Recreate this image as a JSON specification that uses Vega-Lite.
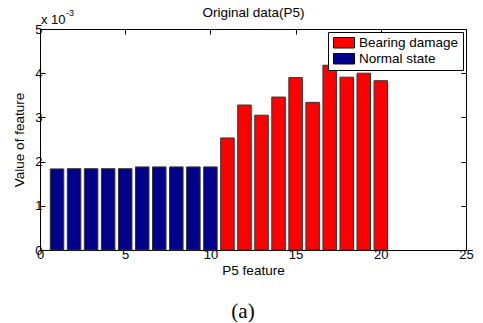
{
  "$schema": "https://vega.github.io/schema/vega-lite/v6.json",
  "width": 426,
  "height": 221,
  "autosize": "none",
  "padding": {"left": 40, "top": 29, "right": 17, "bottom": 73},
  "background": "white",
  "title": {
    "text": "(a)",
    "orient": "bottom",
    "font": "Liberation Serif",
    "fontSize": 21,
    "fontWeight": "normal",
    "color": "black",
    "offset": 24,
    "dx": -10
  },
  "layer": [
    {
      "data": {
        "values": [
          {"index": 1, "value": 0.001835, "state": "Normal state"},
          {"index": 2, "value": 0.001840, "state": "Normal state"},
          {"index": 3, "value": 0.001840, "state": "Normal state"},
          {"index": 4, "value": 0.001840, "state": "Normal state"},
          {"index": 5, "value": 0.001840, "state": "Normal state"},
          {"index": 6, "value": 0.001880, "state": "Normal state"},
          {"index": 7, "value": 0.001880, "state": "Normal state"},
          {"index": 8, "value": 0.001880, "state": "Normal state"},
          {"index": 9, "value": 0.001880, "state": "Normal state"},
          {"index": 10, "value": 0.001880, "state": "Normal state"},
          {"index": 11, "value": 0.002535, "state": "Bearing damage"},
          {"index": 12, "value": 0.003280, "state": "Bearing damage"},
          {"index": 13, "value": 0.003050, "state": "Bearing damage"},
          {"index": 14, "value": 0.003460, "state": "Bearing damage"},
          {"index": 15, "value": 0.003900, "state": "Bearing damage"},
          {"index": 16, "value": 0.003340, "state": "Bearing damage"},
          {"index": 17, "value": 0.004180, "state": "Bearing damage"},
          {"index": 18, "value": 0.003910, "state": "Bearing damage"},
          {"index": 19, "value": 0.004000, "state": "Bearing damage"},
          {"index": 20, "value": 0.003830, "state": "Bearing damage"}
        ]
      },
      "layer": [
        {
          "mark": {"type": "bar", "size": 13.5, "stroke": "#333333", "strokeWidth": 1},
          "encoding": {
            "x": {
              "field": "index",
              "type": "quantitative",
              "scale": {"domain": [0, 25], "nice": false, "zero": true, "padding": 0},
              "axis": {
                "orient": "bottom",
                "values": [0, 5, 10, 15, 20, 25],
                "title": "P5 feature",
                "titlePadding": 2
              }
            },
            "y": {
              "field": "value",
              "type": "quantitative",
              "scale": {"domain": [0, 0.005], "nice": false, "padding": 0},
              "axis": {
                "orient": "left",
                "values": [0, 0.001, 0.002, 0.003, 0.004, 0.005],
                "labelExpr": "format(round(datum.value*1000), 'd')",
                "title": "Value of feature",
                "titlePadding": 8
              }
            },
            "color": {
              "field": "state",
              "type": "nominal",
              "scale": {"domain": ["Bearing damage", "Normal state"], "range": ["#ff0000", "#00008b"]},
              "legend": {
                "title": null,
                "orient": "top-right",
                "offset": 3
              }
            }
          }
        },
        {
          "mark": {"type": "point", "opacity": 0},
          "encoding": {
            "x": {
              "field": "index",
              "type": "quantitative",
              "axis": {
                "orient": "top",
                "values": [0, 5, 10, 15, 20, 25],
                "labels": false,
                "title": "Original data(P5)",
                "titlePadding": 9
              }
            },
            "y": {
              "field": "value",
              "type": "quantitative",
              "axis": {
                "orient": "right",
                "values": [0, 0.001, 0.002, 0.003, 0.004, 0.005],
                "labels": false,
                "title": null
              }
            }
          }
        }
      ]
    },
    {
      "data": {"values": [{"label": "x 10", "exponent": "-3"}]},
      "layer": [
        {
          "mark": {"type": "text", "align": "left", "baseline": "middle", "dx": 1, "dy": -9, "fontSize": 13, "font": "Liberation Sans", "color": "black"},
          "encoding": {
            "x": {"datum": 0, "type": "quantitative", "axis": null},
            "y": {"datum": 0.005, "type": "quantitative", "axis": null},
            "text": {"field": "label"}
          }
        },
        {
          "mark": {"type": "text", "align": "left", "baseline": "middle", "dx": 26, "dy": -16, "fontSize": 9, "font": "Liberation Sans", "color": "black"},
          "encoding": {
            "x": {"datum": 0, "type": "quantitative", "axis": null},
            "y": {"datum": 0.005, "type": "quantitative", "axis": null},
            "text": {"field": "exponent"}
          }
        }
      ]
    }
  ],
  "resolve": {"axis": {"x": "independent", "y": "independent"}},
  "config": {
    "view": {"stroke": "black", "strokeWidth": 1},
    "font": "Liberation Sans",
    "axis": {
      "domainColor": "black",
      "domainWidth": 1,
      "tickColor": "black",
      "tickSize": -5,
      "tickWidth": 1,
      "grid": false,
      "labelFont": "Liberation Sans",
      "labelFontSize": 13,
      "labelColor": "black",
      "labelPadding": 3,
      "labelFlush": false,
      "labelOverlap": false,
      "titleFont": "Liberation Sans",
      "titleFontSize": 13.5,
      "titleFontWeight": "normal",
      "titleColor": "black"
    },
    "legend": {
      "fillColor": "white",
      "strokeColor": "black",
      "strokeWidth": 1,
      "padding": 4,
      "cornerRadius": 0,
      "rowPadding": 1,
      "symbolType": "M-1,-1H3V1H-1Z",
      "symbolSize": 110,
      "symbolStrokeColor": "black",
      "symbolStrokeWidth": 1,
      "symbolOpacity": 1,
      "labelFont": "Liberation Sans",
      "labelFontSize": 13.5,
      "labelColor": "black",
      "labelOffset": 13.5
    }
  }
}
